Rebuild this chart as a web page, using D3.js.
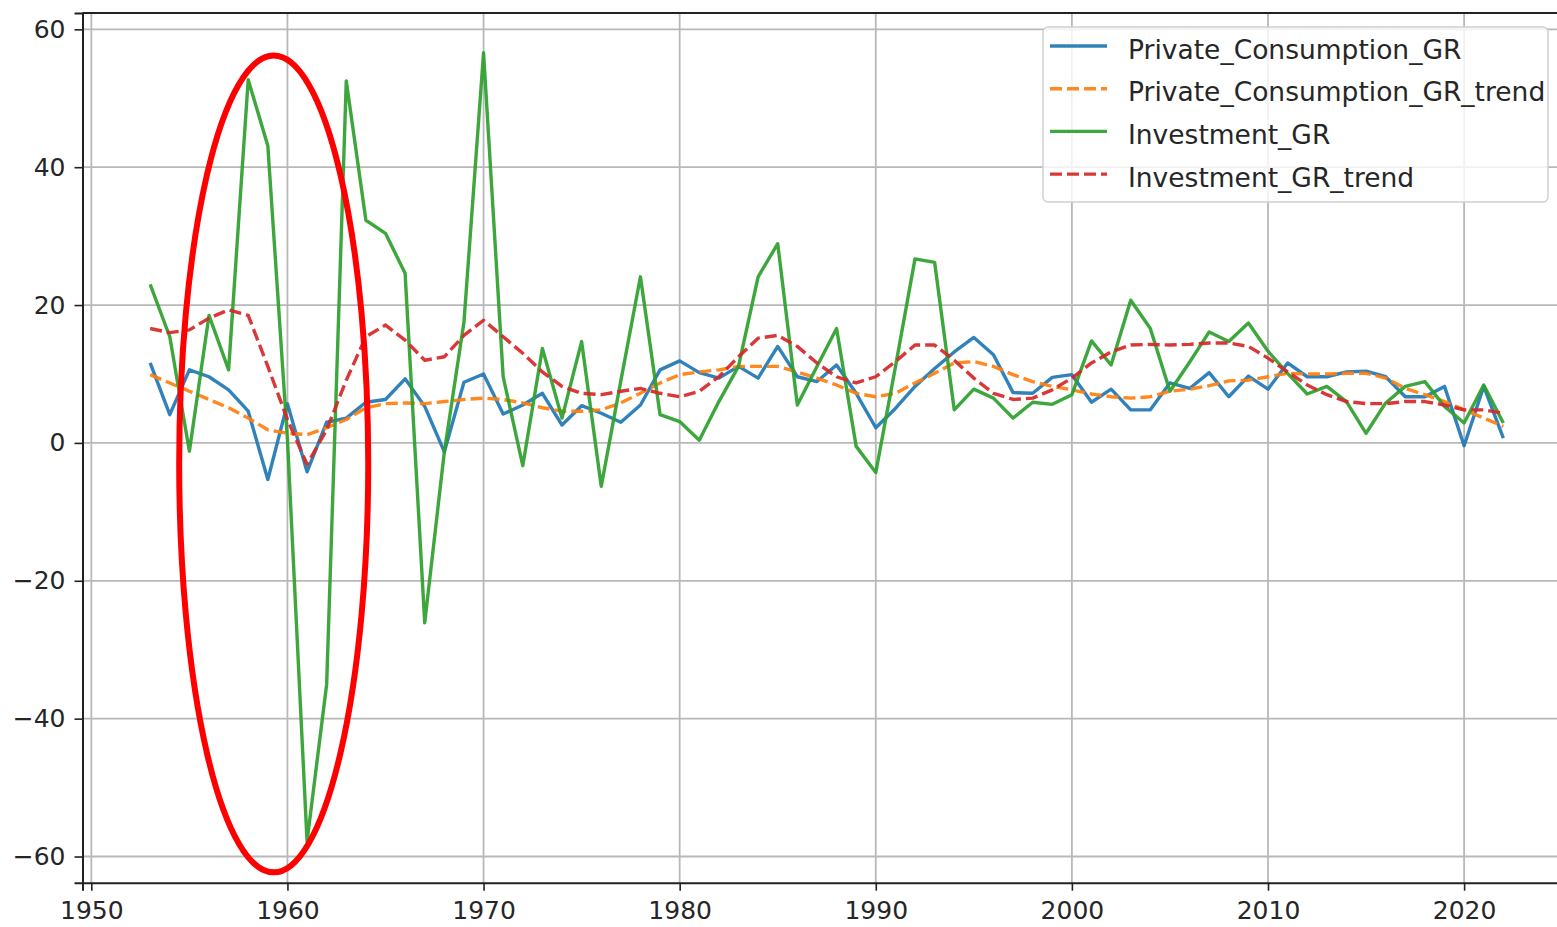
<!DOCTYPE html>
<html>
<head>
<meta charset="utf-8">
<script src="https://cdn.jsdelivr.net/npm/d3@7"></script>
<style>
    body { margin: 0; background: #fff; }
    svg { display: block; font-family: "DejaVu Sans", sans-serif; }
</style>
</head>
<body>
<div class="box"></div>
<script>
// years on the x axis
var years = [1953, 1954, 1955, 1956, 1957, 1958, 1959, 1960, 1961, 1962,
    1963, 1964, 1965, 1966, 1967, 1968, 1969, 1970, 1971, 1972,
    1973, 1974, 1975, 1976, 1977, 1978, 1979, 1980, 1981, 1982,
    1983, 1984, 1985, 1986, 1987, 1988, 1989, 1990, 1991, 1992,
    1993, 1994, 1995, 1996, 1997, 1998, 1999, 2000, 2001, 2002,
    2003, 2004, 2005, 2006, 2007, 2008, 2009, 2010, 2011, 2012,
    2013, 2014, 2015, 2016, 2017, 2018, 2019, 2020, 2021, 2022];

var privateConsumptionGR = [11.6, 4.1, 10.6, 9.6, 7.7, 4.6, -5.3, 5.7, -4.2, 3.0,
    3.6, 5.9, 6.3, 9.3, 5.3, -1.3, 8.8, 10.0, 4.2, 5.5,
    7.2, 2.6, 5.4, 4.3, 3.0, 5.5, 10.6, 11.9, 10.2, 9.4,
    11.1, 9.4, 14.0, 9.6, 8.9, 11.3, 7.2, 2.2, 5.0, 8.2,
    10.8, 13.2, 15.3, 12.8, 7.3, 7.2, 9.5, 9.9, 5.9, 7.8,
    4.8, 4.8, 8.7, 7.9, 10.2, 6.7, 9.7, 7.8, 11.6, 9.6,
    9.6, 10.3, 10.4, 9.6, 6.7, 6.7, 8.2, -0.4, 8.2, 0.7];

var privateConsumptionTrend = [9.9, 8.7, 7.5, 6.3, 5.1, 3.6, 1.9, 1.4, 1.2, 2.2,
    3.4, 5.1, 5.7, 5.8, 5.7, 6.0, 6.3, 6.5, 6.3, 5.8,
    5.1, 4.6, 4.6, 4.8, 5.8, 7.2, 8.7, 9.9, 10.3, 10.6,
    11.1, 11.1, 11.1, 10.3, 9.4, 8.4, 7.2, 6.7, 7.2, 8.7,
    10.1, 11.6, 11.8, 11.1, 9.9, 8.9, 8.2, 7.7, 7.1, 6.7,
    6.5, 6.7, 7.5, 7.8, 8.3, 9.0, 9.1, 9.6, 10.1, 10.0,
    10.0, 10.1, 10.1, 9.4, 7.9, 7.0, 6.0, 4.8, 3.6, 2.4];

var investmentGR = [23.0, 15.4, -1.2, 18.5, 10.6, 52.7, 43.1, 0.5, -57.8, -35.0,
    52.5, 32.3, 30.4, 24.6, -26.1, -1.3, 17.5, 56.6, 9.6, -3.3,
    13.7, 3.6, 14.7, -6.3, 9.0, 24.1, 4.1, 3.1, 0.4, 6.0,
    11.1, 24.1, 28.9, 5.5, 11.1, 16.6, -0.5, -4.3, 11.0, 26.7,
    26.2, 4.8, 7.8, 6.5, 3.6, 5.9, 5.6, 7.0, 14.8, 11.3,
    20.7, 16.6, 7.5, 11.7, 16.1, 14.7, 17.4, 13.3, 10.1, 7.1,
    8.2, 6.0, 1.4, 5.8, 8.2, 8.9, 5.3, 2.9, 8.4, 2.9];

var investmentTrend = [16.6, 16.0, 16.4, 18.1, 19.3, 18.5, 11.1, 3.4, -3.1, 1.9,
    9.1, 15.4, 17.1, 14.9, 12.0, 12.5, 15.6, 17.8, 15.4, 13.0,
    10.3, 8.2, 7.2, 7.0, 7.5, 7.9, 7.2, 6.7, 7.5, 9.6,
    12.5, 15.2, 15.6, 14.0, 11.6, 9.6, 8.7, 9.6, 11.8, 14.2,
    14.2, 12.0, 9.4, 7.2, 6.3, 6.5, 7.7, 9.4, 11.6, 13.2,
    14.2, 14.3, 14.2, 14.3, 14.5, 14.5, 14.0, 12.3, 10.3, 8.4,
    7.0, 6.0, 5.7, 5.7, 6.0, 6.0, 5.5, 4.8, 4.8, 4.3];

var xTicks = [1950, 1960, 1970, 1980, 1990, 2000, 2010, 2020];
var yTicks = [-60, -40, -20, 0, 20, 40, 60];

// red ring drawn over the 1958-1962 swings (centre year/value, half sizes)
var highlight = { year: 1959.3, value: -3.05, halfYears: 4.82, halfValue: 59.25 };

var series = [
    { name: "Private_Consumption_GR", values: privateConsumptionGR, color: "#1f77b4", dash: null },
    { name: "Private_Consumption_GR_trend", values: privateConsumptionTrend, color: "#ff7f0e", dash: "12,5" },
    { name: "Investment_GR", values: investmentGR, color: "#2ca02c", dash: null },
    { name: "Investment_GR_trend", values: investmentTrend, color: "#d62728", dash: "12,5" }
];

width = 1557;
height = 927;
margin = { top: 13, right: -14, bottom: 44.3, left: 82.5 };

var x = d3.scaleLinear()
    .domain([1949.55, 2025.45])
    .range([margin.left, width - margin.right]);

var y = d3.scaleLinear()
    .domain([-63.8, 62.37])
    .range([height - margin.bottom, margin.top]);

const svg = d3.select(".box").append("svg")
    .attr("width", width)
    .attr("height", height)
    .attr("viewBox", [0, 0, width, height]);

// grid
svg.append("g")
    .selectAll("line")
    .data(xTicks)
    .join("line")
    .attr("x1", d => x(d)).attr("x2", d => x(d))
    .attr("y1", margin.top).attr("y2", height - margin.bottom)
    .attr("stroke", "#b8b8b8")
    .attr("stroke-width", 1.8);

svg.append("g")
    .selectAll("line")
    .data(yTicks)
    .join("line")
    .attr("x1", margin.left).attr("x2", width - margin.right)
    .attr("y1", d => y(d)).attr("y2", d => y(d))
    .attr("stroke", "#b8b8b8")
    .attr("stroke-width", 1.8);

// lines
var line = d3.line()
    .x((d, i) => x(years[i]))
    .y(d => y(d));

svg.append("g")
    .attr("fill", "none")
    .selectAll("path")
    .data(series)
    .join("path")
    .attr("stroke", d => d.color)
    .attr("stroke-opacity", 0.92)
    .attr("stroke-width", 3.4)
    .attr("stroke-linejoin", "round")
    .attr("stroke-dasharray", d => d.dash)
    .attr("d", d => line(d.values));

// axes
var xAxis = svg.append("g")
    .attr("transform", `translate(0,${height - margin.bottom})`)
    .call(d3.axisBottom(x).tickValues(xTicks).tickFormat(d3.format("d")).tickSize(8).tickPadding(11));

var yAxis = svg.append("g")
    .attr("transform", `translate(${margin.left},0)`)
    .call(d3.axisLeft(y).tickValues(yTicks).tickFormat(d => d < 0 ? "\u2212" + Math.abs(d) : d).tickSize(8).tickPadding(9));

[xAxis, yAxis].forEach(function (g) {
    g.select(".domain").attr("stroke", "#222").attr("stroke-width", 2);
    g.selectAll(".tick line").attr("stroke", "#222").attr("stroke-width", 1.6);
    g.selectAll(".tick text")
        .attr("fill", "#262626")
        .style("font-family", "DejaVu Sans")
        .style("font-size", "25px");
});

// top spine
svg.append("line")
    .attr("x1", margin.left).attr("x2", width - margin.right)
    .attr("y1", margin.top).attr("y2", margin.top)
    .attr("stroke", "#222")
    .attr("stroke-width", 2);

// legend
var legend = svg.append("g");

legend.append("rect")
    .attr("x", 1043).attr("y", 27)
    .attr("width", 505).attr("height", 175)
    .attr("rx", 5)
    .attr("fill", "white")
    .attr("fill-opacity", 0.8)
    .attr("stroke", "#d0d0d0")
    .attr("stroke-width", 1.5);

var rows = legend.selectAll("g.row")
    .data(series)
    .join("g")
    .attr("class", "row")
    .attr("transform", (d, i) => `translate(1050,${46 + i * 42.7})`);

rows.append("line")
    .attr("x1", 0).attr("x2", 57)
    .attr("stroke", d => d.color)
    .attr("stroke-opacity", 0.92)
    .attr("stroke-width", 3.4)
    .attr("stroke-dasharray", d => d.dash);

rows.append("text")
    .attr("x", 78)
    .attr("y", 3)
    .attr("dy", "0.36em")
    .attr("fill", "#262626")
    .style("font-size", "26.5px")
    .text(d => d.name);

// red ellipse annotation
svg.append("ellipse")
    .attr("cx", x(highlight.year))
    .attr("cy", y(highlight.value))
    .attr("rx", x(highlight.year + highlight.halfYears) - x(highlight.year))
    .attr("ry", y(highlight.value) - y(highlight.value + highlight.halfValue))
    .attr("fill", "none")
    .attr("stroke", "#ff0000")
    .attr("stroke-width", 6);
</script>
</body>
</html>
